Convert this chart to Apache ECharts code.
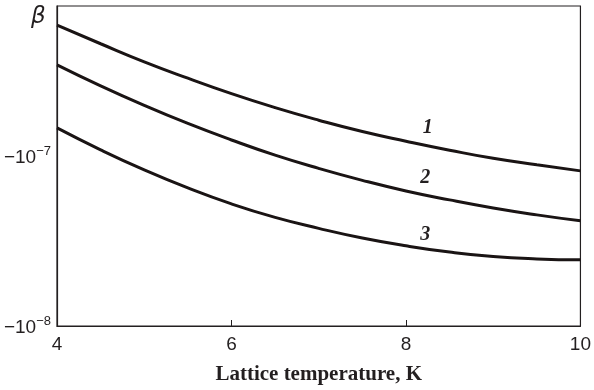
<!DOCTYPE html>
<html>
<head>
<meta charset="utf-8">
<script src="https://cdn.jsdelivr.net/npm/echarts@6/dist/echarts.min.js"></script>
<style>
  html, body { margin: 0; padding: 0; background: #fff; }
  #chart { width: 594px; height: 390px; }
</style>
</head>
<body>
<div id="chart"></div>
<script>
// lattice temperature, K
const temps = [4, 4.5, 5, 5.5, 6, 6.5, 7, 7.5, 8, 8.5, 9, 9.5, 10];
// |beta| for the three curves (axis shows -beta on a log scale)
const beta1 = [5.86e-7, 4.56e-7, 3.57e-7, 2.86e-7, 2.32e-7, 1.92e-7, 1.62e-7, 1.39e-7, 1.22e-7, 1.08e-7, 9.67e-8, 8.86e-8, 8.16e-8];
const beta2 = [3.43e-7, 2.58e-7, 1.98e-7, 1.55e-7, 1.24e-7, 1.01e-7, 8.44e-8, 7.18e-8, 6.22e-8, 5.51e-8, 4.94e-8, 4.5e-8, 4.15e-8];
const beta3 = [1.46e-7, 1.085e-7, 8.27e-8, 6.48e-8, 5.22e-8, 4.35e-8, 3.75e-8, 3.29e-8, 2.96e-8, 2.72e-8, 2.56e-8, 2.48e-8, 2.45e-8];
const curveNames = ['1', '2', '3'];
// where the curve numbers sit, in data units
const nameAtT = [8.25, 8.22, 8.22];
const nameAtBeta = [1.46e-7, 7.4e-8, 3.43e-8];
const xTicks = [4, 6, 8, 10];

const chart = echarts.init(document.getElementById('chart'), null, { renderer: 'canvas' });
const ink = '#231f20';

const makeSeries = (vals, i) => ({
  name: curveNames[i],
  type: 'line',
  smooth: 0.5,
  symbol: 'none',
  lineStyle: { color: '#1a1414', width: 3 },
  data: temps.map((t, k) => [t, vals[k]]),
  markPoint: {
    symbol: 'circle',
    symbolSize: 0,
    data: [{ coord: [nameAtT[i], nameAtBeta[i]] }],
    label: {
      show: true,
      formatter: curveNames[i],
      position: 'inside',
      fontFamily: 'Liberation Serif',
      fontStyle: 'italic',
      fontWeight: 'bold',
      fontSize: 20,
      color: ink
    }
  }
});

const option = {
  animation: false,
  title: {
    text: 'β',
    left: 26,
    top: 1,
    textStyle: { fontFamily: 'DejaVu Sans', fontStyle: 'italic', fontWeight: 'normal', fontSize: 23, color: ink }
  },
  grid: {
    left: 57, right: 11, top: 6, bottom: 64,
    show: true, borderColor: ink, borderWidth: 1.2
  },
  xAxis: {
    type: 'value',
    min: 4, max: 10, interval: 2,
    name: 'Lattice temperature, K',
    nameLocation: 'middle',
    nameGap: 38,
    nameTextStyle: { fontFamily: 'Liberation Serif', fontWeight: 'bold', fontSize: 21, color: ink },
    axisLine: { show: true, lineStyle: { color: ink, width: 1.2 } },
    axisTick: { show: true, inside: true, length: 6, lineStyle: { color: ink } },
    splitLine: { show: false },
    axisLabel: {
      margin: 9,
      fontFamily: 'Liberation Sans',
      fontSize: 19,
      color: ink,
      formatter: v => (xTicks.indexOf(v) >= 0 ? String(v) : '')
    }
  },
  yAxis: {
    type: 'log',
    logBase: 10,
    min: 1e-8,
    max: 7.6e-7,
    axisLine: { show: true, lineStyle: { color: ink, width: 1.2 } },
    axisTick: { show: false },
    splitLine: { show: false },
    axisLabel: {
      margin: 6,
      formatter: v => {
        const e = Math.log10(v);
        const r = Math.round(e);
        if (Math.abs(e - r) > 1e-6) return '';
        return '{b|−10}{s|−' + Math.abs(r) + '}';
      },
      rich: {
        b: { fontFamily: 'Liberation Sans', fontSize: 19, color: ink, verticalAlign: 'bottom', lineHeight: 22 },
        s: { fontFamily: 'Liberation Sans', fontSize: 13, color: ink, verticalAlign: 'top', lineHeight: 22, padding: [0, 0, 12, 0] }
      }
    }
  },
  series: [beta1, beta2, beta3].map(makeSeries)
};

chart.setOption(option);
window.addEventListener('resize', () => chart.resize());
</script>
</body>
</html>
